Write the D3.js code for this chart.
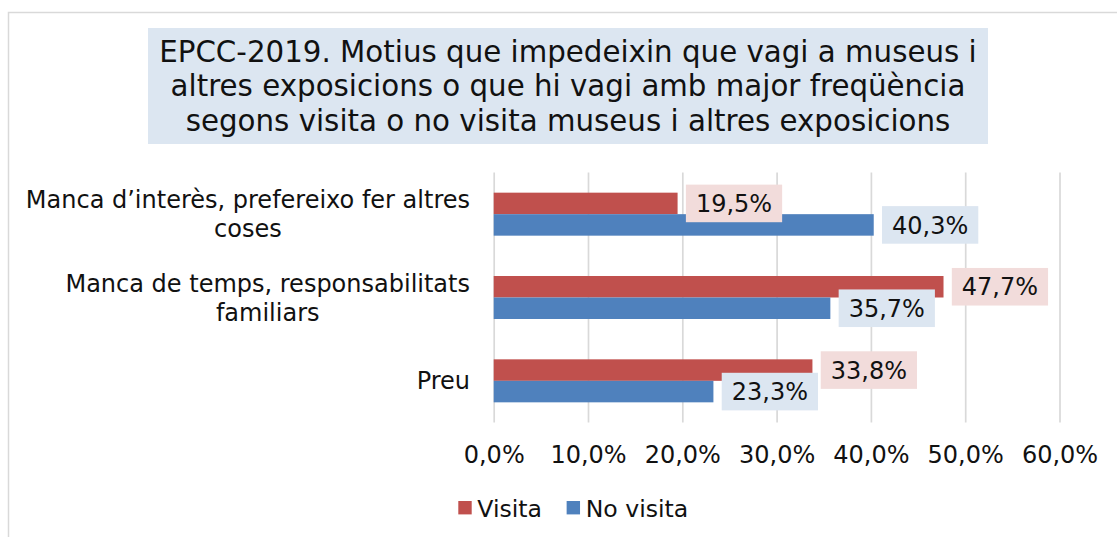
<!DOCTYPE html>
<html>
<head>
<meta charset="utf-8">
<script src="https://cdn.jsdelivr.net/npm/d3@7"></script>
<style>
  html, body { margin: 0; padding: 0; background: #fff; }
  svg { display: block; }
  text { font-family: "DejaVu Sans", Verdana, sans-serif; fill: #111; }
</style>
</head>
<body>
<svg id="chart" width="1117" height="537"></svg>
<script>
// ---- Data ----
const titleLines = [
  "EPCC-2019. Motius que impedeixin que vagi a museus i",
  "altres exposicions o que hi vagi amb major freqüència",
  "segons visita o no visita museus i altres exposicions"
];
const categories = [
  "Manca d’interès, prefereixo fer altres coses",
  "Manca de temps, responsabilitats familiars",
  "Preu"
];
const categoryLines = [
  ["Manca d’interès, prefereixo fer altres", "coses"],
  ["Manca de temps, responsabilitats", "familiars"],
  ["Preu"]
];
const seriesNames = ["Visita", "No visita"];
const visita = [19.5, 47.7, 33.8];
const noVisita = [40.3, 35.7, 23.3];
const tickValues = [0, 10, 20, 30, 40, 50, 60];
const tickLabels = ["0,0%", "10,0%", "20,0%", "30,0%", "40,0%", "50,0%", "60,0%"];

const colors = { "Visita": "#c0504d", "No visita": "#4f81bd" };
const labelFills = { "Visita": "#f2dcdb", "No visita": "#dce6f1" };

const svg = d3.select("#chart");

// chart border
svg.append("rect")
  .attr("x", 8.5).attr("y", 12.5).attr("width", 1300).attr("height", 700)
  .attr("fill", "none").attr("stroke", "#d9d9d9").attr("stroke-width", 1.5);

// title
svg.append("rect")
  .attr("x", 148).attr("y", 28).attr("width", 840).attr("height", 116)
  .attr("fill", "#dce6f1");
svg.append("g").selectAll("text").data(titleLines).join("text")
  .attr("x", 568).attr("y", (d, i) => 62 + i * 34.3)
  .attr("text-anchor", "middle")
  .style("font-size", "29.3px")
  .text(d => d);

// scales
const plotTop = 172.5, plotBottom = 422.5;
const x = d3.scaleLinear().domain([0, 60]).range([493.7, 1059.5]);
const y = d3.scaleBand().domain(categories).range([plotTop, plotBottom])
  .paddingInner(0.484).paddingOuter(0.242);
const ySub = d3.scaleBand().domain(seriesNames).range([0, y.bandwidth()]);

// axis with gridlines
const axis = d3.axisBottom(x)
  .tickValues(tickValues)
  .tickSizeInner(-(plotBottom - plotTop))
  .tickSizeOuter(0)
  .tickFormat((d, i) => tickLabels[i]);
const axG = svg.append("g").attr("transform", `translate(0,${plotBottom})`).call(axis);
axG.select(".domain").remove();
axG.selectAll(".tick line").attr("stroke", "#d9d9d9").attr("stroke-width", 1.7);
axG.selectAll(".tick text")
  .attr("y", 463.3 - plotBottom).attr("dy", 0)
  .style("font-size", "24px").style("font-family", "DejaVu Sans, Verdana, sans-serif")
  .attr("fill", "#111");

// bars
const rows = categories.map((c, i) => ({
  cat: c,
  vals: [{ s: "Visita", v: visita[i] }, { s: "No visita", v: noVisita[i] }]
}));
const barG = svg.append("g");
rows.forEach(r => {
  barG.selectAll(null).data(r.vals).join("rect")
    .attr("x", x(0))
    .attr("y", d => y(r.cat) + ySub(d.s))
    .attr("width", d => x(d.v) - x(0))
    .attr("height", ySub.bandwidth())
    .attr("fill", d => colors[d.s]);
});

// data labels
const labG = svg.append("g");
seriesNames.forEach(s => {
  rows.forEach(r => {
    const d = r.vals.find(e => e.s === s);
    const cy = y(r.cat) + ySub(s) + ySub.bandwidth() / 2;
    const g = labG.append("g");
    const t = g.append("text")
      .attr("text-anchor", "middle")
      .style("font-size", "24px")
      .text(d.v.toFixed(1).replace(".", ",") + "%");
    const w = t.node().getComputedTextLength() + 20;
    const bx = x(d.v) + 8.3;
    g.insert("rect", "text")
      .attr("x", bx).attr("y", cy - 18.8)
      .attr("width", w).attr("height", 37.6)
      .attr("fill", labelFills[s]);
    t.attr("x", bx + w / 2).attr("y", cy + 8.6);
  });
});

// category labels
const catG = svg.append("g");
categories.forEach((c, i) => {
  const lines = categoryLines[i];
  const cy = y(c) + y.bandwidth() / 2;
  const g = catG.append("g");
  const ts = g.selectAll("text").data(lines).join("text")
    .attr("text-anchor", "middle")
    .style("font-size", "24px")
    .text(d => d);
  const maxW = d3.max(ts.nodes(), n => n.getComputedTextLength());
  const lh = 29.2;
  const firstBase = cy + 8.6 - (lines.length - 1) * lh / 2;
  ts.attr("x", 470 - maxW / 2).attr("y", (d, k) => firstBase + k * lh);
});

// legend
const legG = svg.append("g");
let lx = 458.3;
seriesNames.forEach(s => {
  legG.append("rect")
    .attr("x", lx).attr("y", 501).attr("width", 13.4).attr("height", 13.4)
    .attr("fill", colors[s]);
  const t = legG.append("text")
    .attr("x", lx + 19).attr("y", 516.5)
    .style("font-size", "23.6px")
    .text(s);
  lx = lx + 19 + t.node().getComputedTextLength() + 24.6;
});
</script>
</body>
</html>
